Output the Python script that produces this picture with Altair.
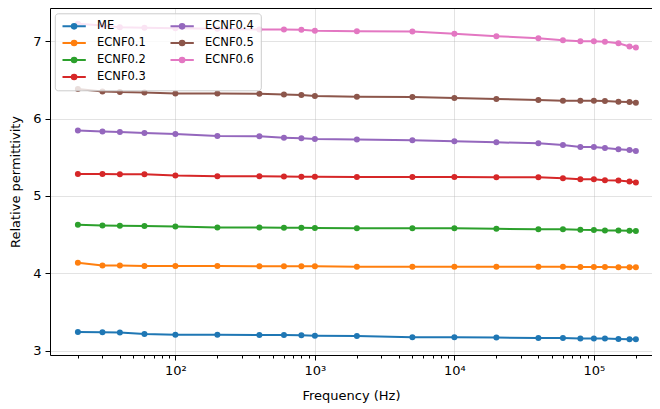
import altair as alt
import pandas as pd

freqs = [20, 30, 40, 60, 100, 200, 400, 600, 800, 1000, 2000, 5000, 10000,
         20000, 40000, 60000, 80000, 100000, 120000, 150000, 180000, 200000]

series_names = ["ME", "ECNF0.1", "ECNF0.2", "ECNF0.3", "ECNF0.4", "ECNF0.5", "ECNF0.6"]
series_colors = ["#1f77b4", "#ff7f0e", "#2ca02c", "#d62728", "#9467bd", "#8c564b", "#e377c2"]

me = [3.240, 3.236, 3.234, 3.215, 3.206, 3.204, 3.201, 3.200, 3.197, 3.193, 3.188,
      3.172, 3.172, 3.168, 3.164, 3.163, 3.155, 3.155, 3.155, 3.151, 3.147, 3.146]
ecnf01 = [4.135, 4.100, 4.099, 4.093, 4.092, 4.092, 4.091, 4.091, 4.091, 4.090, 4.085,
          4.085, 4.084, 4.084, 4.084, 4.083, 4.081, 4.080, 4.080, 4.079, 4.078, 4.076]
ecnf02 = [4.626, 4.618, 4.613, 4.612, 4.605, 4.592, 4.591, 4.587, 4.587, 4.586, 4.583,
          4.583, 4.582, 4.574, 4.570, 4.569, 4.561, 4.560, 4.553, 4.552, 4.548, 4.547]
ecnf03 = [5.284, 5.283, 5.280, 5.279, 5.263, 5.254, 5.253, 5.250, 5.249, 5.249, 5.245,
          5.244, 5.244, 5.241, 5.240, 5.228, 5.215, 5.214, 5.203, 5.199, 5.185, 5.173]
ecnf04 = [5.844, 5.831, 5.826, 5.813, 5.800, 5.774, 5.770, 5.753, 5.745, 5.736, 5.728,
          5.718, 5.705, 5.692, 5.680, 5.658, 5.632, 5.631, 5.619, 5.603, 5.594, 5.581]
ecnf05 = [6.381, 6.351, 6.342, 6.338, 6.325, 6.324, 6.321, 6.312, 6.303, 6.290, 6.282,
          6.277, 6.265, 6.252, 6.239, 6.231, 6.230, 6.229, 6.226, 6.218, 6.213, 6.205]
ecnf06 = [7.225, 7.203, 7.181, 7.173, 7.168, 7.160, 7.151, 7.150, 7.147, 7.134, 7.129,
          7.125, 7.095, 7.065, 7.039, 7.013, 7.000, 6.999, 6.992, 6.974, 6.932, 6.919]

x_major_ticks = [100, 1000, 10000, 100000]
x_minor_ticks = [20, 30, 40, 50, 60, 70, 80, 90,
                 200, 300, 400, 500, 600, 700, 800, 900,
                 2000, 3000, 4000, 5000, 6000, 7000, 8000, 9000,
                 20000, 30000, 40000, 50000, 60000, 70000, 80000, 90000,
                 200000]
y_ticks = [3, 4, 5, 6, 7]

all_series = [me, ecnf01, ecnf02, ecnf03, ecnf04, ecnf05, ecnf06]
rows = []
for name, vals in zip(series_names, all_series):
    for f, v in zip(freqs, vals):
        rows.append({"freq": f, "eps": v, "series": name})
df = pd.DataFrame(rows)

xscale = alt.Scale(type="log", domain=[12.62, 260960], nice=False)
yscale = alt.Scale(domain=[2.943, 7.429], nice=False, zero=False)

# legend handle: a line with a marker dot drawn as concentric stroked rings
cx = 1.32
ring_path = "M-1,0L3.66,0"
for r in [0.12, 0.3, 0.46]:
    ring_path += f"M{cx - r:.3f},0A{r},{r},0,1,1,{cx + r:.3f},0A{r},{r},0,1,1,{cx - r:.3f},0"

legend = alt.Legend(
    title=None, orient="none", legendX=4.8, legendY=5.3, columns=2,
    symbolType=ring_path,
    symbolSize=100, symbolStrokeWidth=2, labelFontSize=11.5, labelFont="DejaVu Sans",
    labelColor="#000000", labelOffset=23.5, columnPadding=20, rowPadding=3,
    padding=6.7, fillColor="rgba(255,255,255,0.8)", strokeColor="#cccccc",
    cornerRadius=3, symbolOpacity=1,
)
cscale = alt.Scale(domain=series_names, range=series_colors)
color_leg = alt.Color("series:N", scale=cscale, legend=legend)
color_noleg = alt.Color("series:N", scale=cscale, legend=None)

y_enc = alt.Y("eps:Q", scale=yscale,
              axis=alt.Axis(values=y_ticks, format="d", title="Relative permittivity",
                            grid=True, tickSize=5, labelPadding=4, titleX=-28,
                            domain=True))

lines = alt.Chart(df).mark_line(strokeWidth=2).encode(
    x=alt.X("freq:Q", scale=xscale,
            axis=alt.Axis(values=x_major_ticks, orient="bottom", grid=True, tickSize=5,
                          labelExpr="datum.value == 100 ? '10²' : datum.value == 1000 ? '10³' : datum.value == 10000 ? '10⁴' : '10⁵'",
                          title="Frequency (Hz)", labelPadding=4, titlePadding=12,
                          domain=True)),
    y=y_enc,
    color=color_leg,
)

points = alt.Chart(df).mark_point(filled=True, size=36, opacity=1).encode(
    x=alt.X("freq:Q", scale=xscale,
            axis=alt.Axis(values=x_minor_ticks, orient="bottom", grid=False, tickSize=3,
                          labels=False, title=None, domain=False)),
    y=y_enc,
    color=color_noleg,
)

top_frame = alt.Chart(df).mark_point(opacity=0).encode(
    x=alt.X("freq:Q", scale=xscale,
            axis=alt.Axis(values=x_major_ticks, orient="top", grid=False, ticks=False,
                          labels=False, title=None, domain=True)),
    y=alt.Y("eps:Q", scale=yscale),
)

chart = alt.layer(lines, points, top_frame).resolve_axis(x="independent").properties(
    width=602, height=347,
    autosize=alt.AutoSizeParams(type="none"),
    padding={"left": 42, "top": 0, "right": 0, "bottom": 50},
    background="white",
).configure_view(
    stroke=None
).configure_axis(
    domainColor="#000000", domainWidth=1, tickColor="#000000", tickWidth=1,
    labelColor="#000000",
    labelFont="DejaVu Sans", labelFontSize=13, titleFont="DejaVu Sans",
    titleFontSize=13, titleFontWeight="normal", titleColor="#000000",
    gridColor="#b0b0b0", gridOpacity=0.35, gridWidth=1,
)

chart.save("out.html", embed_options={"renderer": "svg", "actions": False})
